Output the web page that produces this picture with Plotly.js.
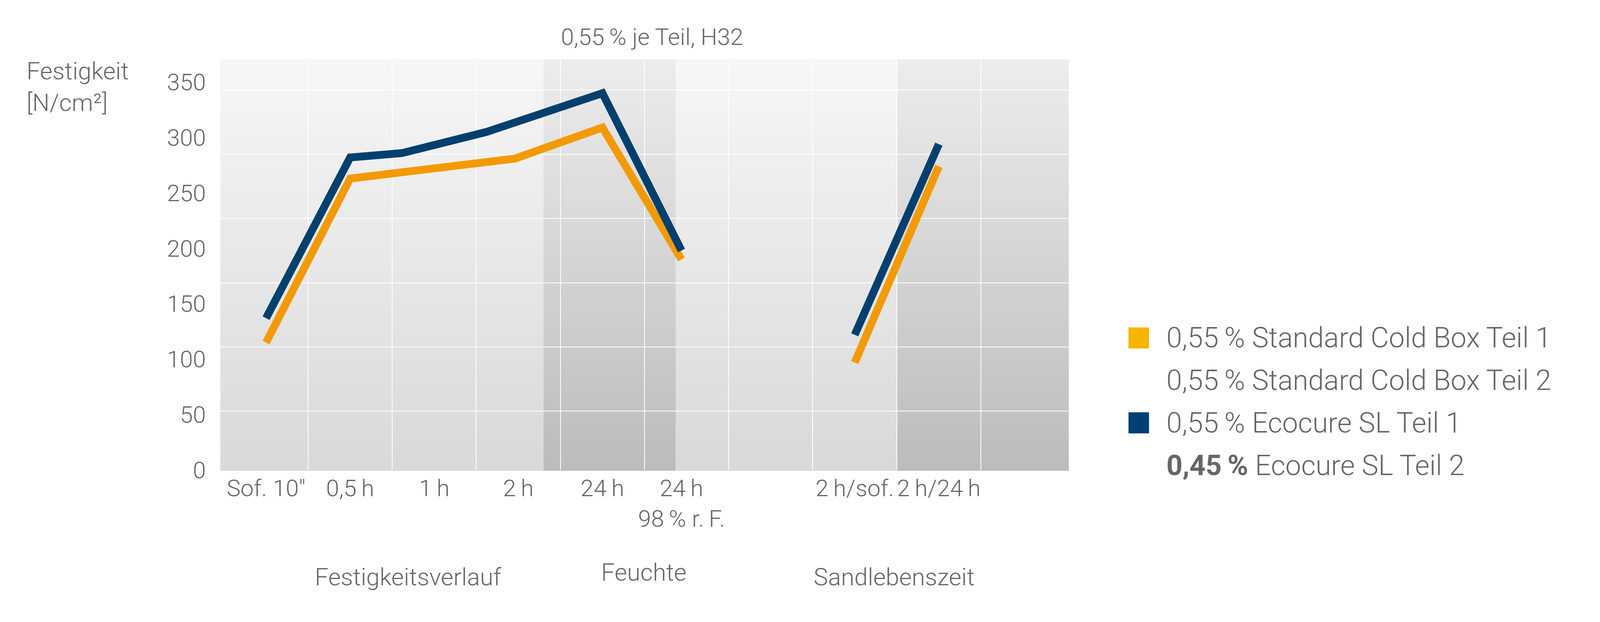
<!DOCTYPE html>
<html>
<head>
<meta charset="utf-8">
<script src="https://cdn.plot.ly/plotly-3.0.1.min.js"></script>
<style>
  html, body { margin: 0; padding: 0; background: #fff; overflow: hidden; }
</style>
</head>
<body>
<div id="chart"></div>
<script>
// x positions of the categories and their labels
const catPos = [0, 1, 2, 3, 4, 4.94, 7, 8];
const catLabels = ['Sof. 10″', '0,5\u2009h', '1\u2009h', '2\u2009h', '24\u2009h', '24\u2009h<br>98\u2009% r.\u2009F.', '2\u2009h/sof.', '2\u2009h/24\u2009h'];

// 0,55 % Standard Cold Box Teil 1 (orange)
const cbX = [0, 1, 2.96, 4, 4.94, null, 7, 8];
const cbY = [115, 263, 281, 309, 190, null, 97, 274];

// 0,55 % Ecocure SL Teil 1 (blue)
const ecoX = [0, 1, 1.62, 2.62, 4, 4.94, null, 7, 8];
const ecoY = [137, 282, 286, 305, 340, 198, null, 122, 294];

const yTicks = [0, 50, 100, 150, 200, 250, 300, 350];

const groupNames = ['Festigkeitsverlauf', 'Feuchte', 'Sandlebenszeit'];
const groupPos = [1.69, 4.49, 7.47];

const legendLabels = [
    '0,55\u2009% Standard Cold Box Teil 1',
    '0,55\u2009% Standard Cold Box Teil 2',
    '0,55\u2009% Ecocure SL Teil 1',
    '<span style="font-family:Roboto;font-weight:bold">0,45\u2009%</span> Ecocure SL Teil 2'
];
const legendColors = ['#f7b500', null, '#003f73', null];

const orange = '#f39a00';
const blue = '#00406f';
const textColor = '#666666';
const fontFamily = '"Roboto Light", Roboto, "Liberation Sans", Arial, sans-serif';

// the window can be narrower than the 4283 px design, keep the proportions
const W = Math.min(window.innerWidth || 4283, 4283);
const H = 1592;
const sx = W / 4283;
document.getElementById('chart').style.width = W + 'px';
document.getElementById('chart').style.height = H + 'px';

// background: vertical gradient, built from thin stripes
function stripes(x0, x1, xref, top, bottom, n) {
    const out = [];
    for (let i = 0; i < n; i++) {
        const t = i / (n - 1);
        const c = top.map((v, k) => Math.round(v + (bottom[k] - v) * t));
        out.push({
            type: 'rect', layer: 'below', xref: xref, yref: 'paper',
            x0: x0, x1: x1,
            y0: 1 - (i + 1) / n - 0.002, y1: 1 - i / n,
            fillcolor: `rgb(${c.join(',')})`, line: { width: 0 }
        });
    }
    return out;
}

const xRange = [-0.544, 9.545];
const lightTop = [246, 246, 246], lightBottom = [217, 217, 217];
const darkTop = [236, 236, 236], darkBottom = [188, 188, 188];

let shapes = []
    .concat(stripes(0, 1, 'paper', lightTop, lightBottom, 60))
    .concat(stripes(3.3, 4.87, 'x', darkTop, darkBottom, 60))
    .concat(stripes(7.5, xRange[1], 'x', darkTop, darkBottom, 60));

// legend swatches and texts
const annotations = [];
const rowY0 = 0.3216, rowStep = 0.1034;
legendLabels.forEach((label, i) => {
    const y = rowY0 - i * rowStep;
    if (legendColors[i]) {
        shapes.push({
            type: 'rect', xref: 'paper', yref: 'paper',
            x0: 1.0704, x1: 1.0946, y0: y - 0.0257, y1: y + 0.0257,
            fillcolor: legendColors[i], line: { width: 0 }
        });
    }
    annotations.push({
        xref: 'paper', yref: 'paper', x: 1.114, y: y,
        xanchor: 'left', yanchor: 'middle', showarrow: false,
        text: label, font: { size: 72, color: textColor, family: fontFamily, weight: 300 }
    });
});

groupNames.forEach((name, i) => {
    annotations.push({
        xref: 'x', yref: 'paper', x: groupPos[i], y: name === 'Feuchte' ? -0.249 : -0.26,
        xanchor: 'center', yanchor: 'middle', showarrow: false,
        text: name, font: { size: 62, color: textColor, family: fontFamily, weight: 300 }
    });
});

annotations.push({
    xref: 'x', yref: 'paper', x: 4.59, y: 1.055,
    xanchor: 'center', yanchor: 'middle', showarrow: false,
    text: '0,55\u2009% je Teil, H32', font: { size: 60, color: textColor, family: fontFamily, weight: 300 }
});

annotations.push({
    xref: 'paper', yref: 'paper', x: -0.2294, y: 0.933,
    xanchor: 'left', yanchor: 'middle', align: 'left', showarrow: false,
    text: 'Festigkeit<br>[N/cm²]', font: { size: 62, color: textColor, family: fontFamily, weight: 300 }
});

const traces = [
    {
        x: cbX, y: cbY, type: 'scatter', mode: 'lines',
        name: '0,55 % Standard Cold Box Teil 1',
        line: { color: orange, width: 20 }, connectgaps: false
    },
    {
        x: ecoX, y: ecoY, type: 'scatter', mode: 'lines',
        name: '0,55 % Ecocure SL Teil 1',
        line: { color: blue, width: 20 }, connectgaps: false
    }
];

const layout = {
    width: W,
    height: H,
    margin: { l: Math.round(590 * sx), r: Math.round(1422 * sx), t: 152, b: 389 },
    paper_bgcolor: '#ffffff',
    plot_bgcolor: '#ffffff',
    showlegend: false,
    hovermode: false,
    font: { family: fontFamily, color: textColor, size: 60, weight: 300 },
    xaxis: {
        range: xRange,
        tickvals: catPos,
        ticktext: catLabels,
        tickangle: 0,
        showgrid: false,
        zeroline: false,
        showline: false,
        ticks: '',
        ticklabelstandoff: 6,
        tickfont: { size: 60, color: textColor },
        minor: {
            tickvals: [0.5, 1.5, 2.5, 3.5, 4.5, 5.5, 6.5, 7.5, 8.5],
            showgrid: true, gridcolor: '#ffffff', gridwidth: 2, ticks: ''
        }
    },
    yaxis: {
        range: [0, 370.5],
        tickvals: yTicks,
        showgrid: false,
        zeroline: false,
        showline: false,
        ticks: '',
        ticklabelstandoff: Math.round(38 * sx),
        tickfont: { size: 60, color: textColor },
        minor: {
            tick0: 53.1, dtick: 57.95,
            showgrid: true, gridcolor: '#ffffff', gridwidth: 2, ticks: ''
        }
    },
    shapes: shapes,
    annotations: annotations
};

Plotly.newPlot('chart', traces, layout, { staticPlot: true, displayModeBar: false });
</script>
</body>
</html>
